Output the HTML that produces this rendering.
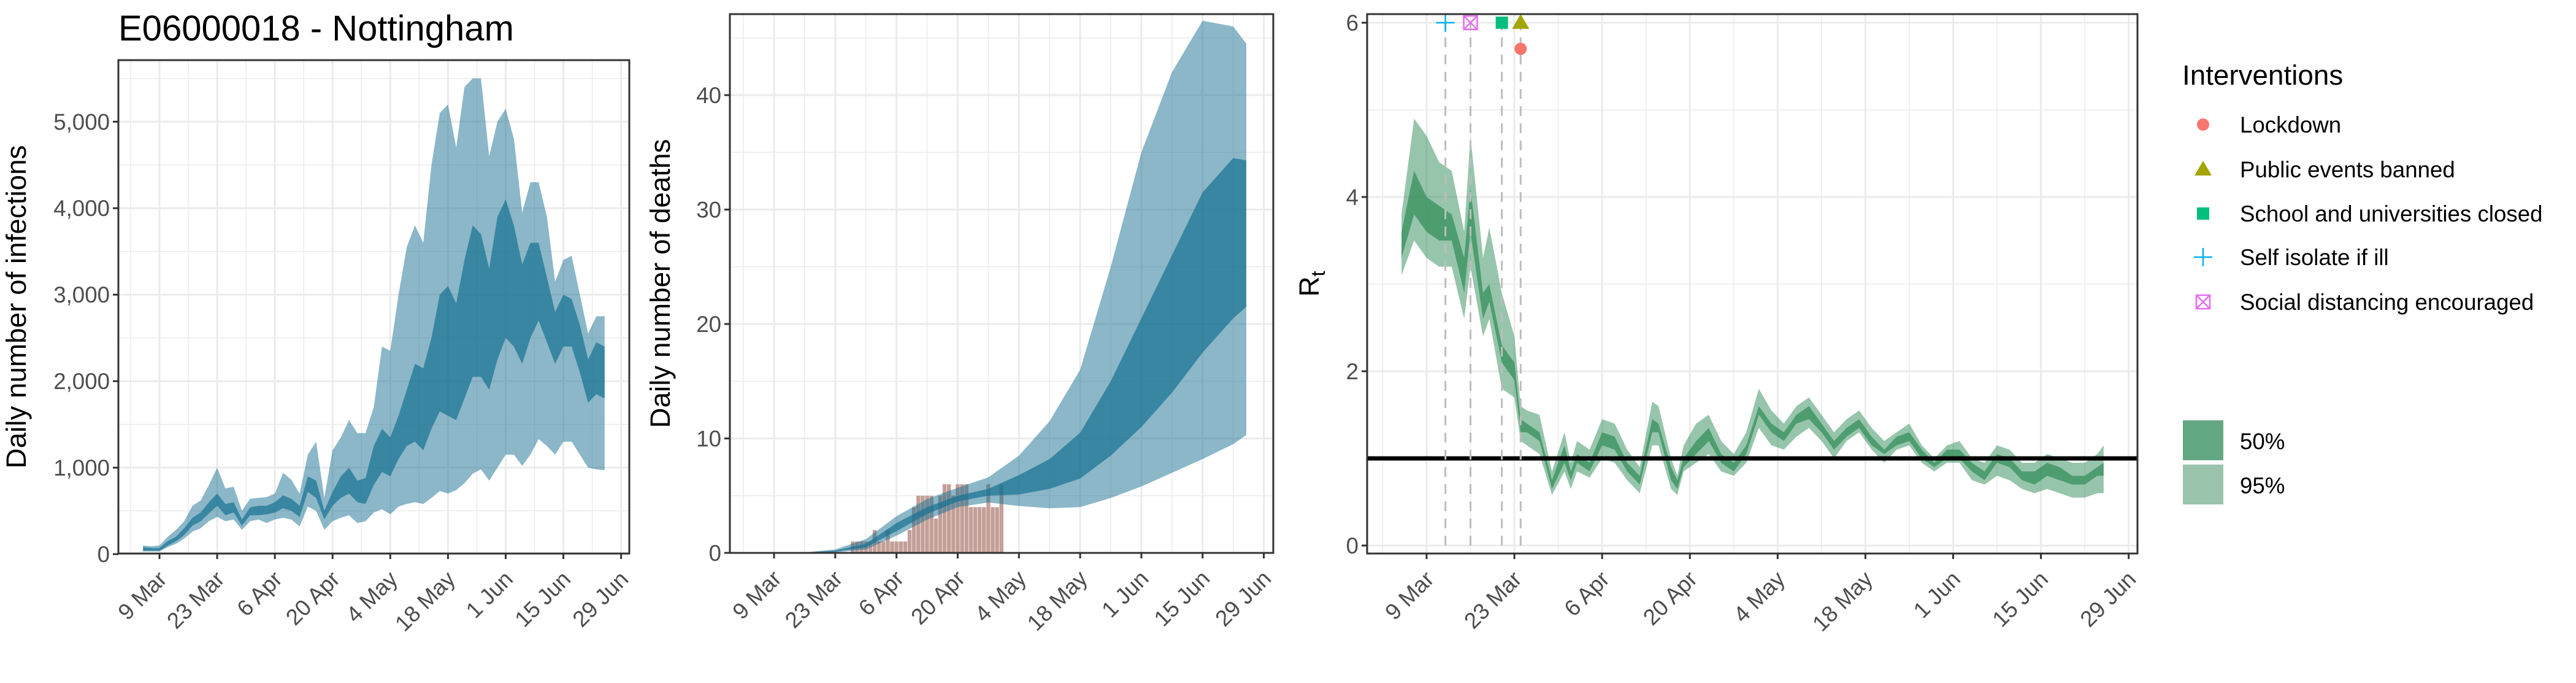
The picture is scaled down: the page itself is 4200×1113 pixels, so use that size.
<!DOCTYPE html>
<html><head><meta charset="utf-8">
<style>
html,body{margin:0;padding:0;background:#fff;}
svg{display:block;font-family:"Liberation Sans",Arial,sans-serif;}
</style></head>
<body>
<svg id="chart" width="4200" height="1113" viewBox="0 0 4200 1113" xmlns="http://www.w3.org/2000/svg">
<rect x="0" y="0" width="4200" height="1113" fill="#fff"/>
<text x="193" y="66" font-size="58" fill="#000">E06000018 - Nottingham</text>
<g id="p1"></g><g id="p2"></g><g id="p3"></g><g id="legend"></g>
</svg>
<script>
// ---- data: day offsets relative to 9 Mar ----
const tickLabels = ["9 Mar","23 Mar","6 Apr","20 Apr","4 May","18 May","1 Jun","15 Jun","29 Jun"];
const infDays = [-4,-2,0,2,4,6,8,10,12,14,16,18,20,22,24,26,28,30,32,34,36,38,40,42,44,46,48,50,52,54,56,58,60,62,64,66,68,70,72,74,76,78,80,82,84,86,88,90,92,94,96,98,100,102,104,106,108];
const infHi95 = [100,90,100,200,280,380,560,620,800,1000,760,780,500,640,650,660,700,940,860,700,1150,1300,650,1200,1350,1550,1400,1400,1700,2400,2350,3000,3550,3800,3600,4500,5100,5200,4700,5400,5500,5500,4600,5000,5150,4800,3950,4300,4300,3900,3150,3400,3450,3000,2550,2750,2750];
const infHi50 = [80,70,70,150,200,300,420,480,600,700,580,600,400,540,560,560,600,680,640,560,900,850,500,720,900,1000,850,880,1250,1450,1350,1600,1900,2200,2150,2500,3000,3100,2900,3400,3800,3700,3300,3900,4100,3800,3350,3600,3600,3200,2800,3000,2950,2650,2250,2450,2400];
const infLo50 = [40,40,40,100,150,220,330,380,470,560,450,480,330,450,450,460,480,530,500,430,720,650,400,560,650,700,600,580,800,950,900,1100,1250,1300,1200,1450,1650,1600,1550,1800,2050,2050,1900,2250,2500,2400,2200,2500,2700,2450,2200,2400,2400,2100,1750,1850,1800];
const infLo95 = [30,30,30,80,120,180,260,300,380,430,380,400,280,380,400,360,400,420,400,320,550,500,280,380,420,450,360,380,480,520,460,550,580,600,580,650,730,700,740,820,930,980,850,1000,1150,1150,1020,1150,1330,1250,1150,1300,1300,1150,1000,980,970];

const dthDays = [0,7,14,21,28,35,42,49,56,63,70,77,84,91,98,105,108];
const dthHi95 = [0,0.05,0.3,1.2,3.2,4.7,5.7,6.6,8.5,11.5,16,25,35,42,46.5,46,44.5];
const dthHi50 = [0,0.04,0.2,0.8,2.6,4.0,5.0,5.6,6.8,8.2,10.5,15,20.5,26,31.5,34.5,34.3];
const dthLo50 = [0,0.02,0.1,0.5,1.9,3.4,4.5,5.0,5.1,5.6,6.5,8.5,11,14,17.5,20.5,21.5];
const dthLo95 = [0,0.01,0.05,0.3,1.5,2.9,4.0,4.4,4.1,3.9,4.0,4.8,5.8,7,8.2,9.5,10.3];
const obsDays = [18,19,20,21,22,23,24,25,26,27,28,29,30,31,32,33,34,35,36,37,38,39,40,41,42,43,44,45,46,47,48,49,50,51,52];
const obsDeaths = [1,1,1,1,1,2,1,1,2,1,1,1,1,2,4,5,5,5,5,3,5,6,6,5,6,6,6,4,4,4,4,6,4,4,6];

const rtDays = [-4,-2,0,2,4,6,7,9,10,12,14,15,16,18,20,22,23,24,26,28,30,32,34,36,37,39,40,41,43,45,47,49,51,53,55,57,59,61,63,65,67,69,71,73,75,77,79,81,83,85,87,89,91,93,95,97,99,101,103,105,107,108];
const rtHi95 = [3.8,4.9,4.7,4.4,4.3,3.6,4.7,3.3,3.65,2.9,2.4,1.6,1.55,1.5,0.85,1.3,0.95,1.2,1.1,1.45,1.4,1.1,0.9,1.65,1.6,1.0,0.8,1.15,1.4,1.5,1.2,1.05,1.3,1.8,1.55,1.4,1.6,1.7,1.5,1.3,1.45,1.55,1.35,1.2,1.3,1.4,1.15,1.0,1.15,1.2,1.0,0.95,1.15,1.1,0.95,0.95,1.05,1.0,0.95,0.95,1.05,1.15];
const rtHi50 = [3.6,4.3,4.0,3.9,3.8,3.3,4.1,2.9,3.0,2.3,2.1,1.45,1.4,1.3,0.75,1.15,0.85,1.05,0.95,1.3,1.25,0.95,0.8,1.45,1.4,0.9,0.75,1.0,1.2,1.35,1.05,0.95,1.15,1.6,1.4,1.3,1.5,1.6,1.4,1.2,1.35,1.45,1.25,1.1,1.25,1.3,1.1,0.95,1.1,1.1,0.95,0.85,1.05,1.0,0.85,0.85,0.95,0.9,0.8,0.8,0.9,0.95];
const rtLo50 = [3.3,3.8,3.6,3.5,3.5,2.9,3.6,2.6,2.8,2.1,1.9,1.3,1.3,1.2,0.65,0.95,0.75,0.95,0.85,1.15,1.1,0.85,0.7,1.3,1.3,0.75,0.65,0.9,1.05,1.2,0.95,0.85,1.05,1.5,1.3,1.2,1.4,1.45,1.3,1.1,1.25,1.35,1.15,1.05,1.15,1.2,1.0,0.9,1.0,1.0,0.85,0.75,0.95,0.9,0.75,0.7,0.8,0.75,0.7,0.7,0.8,0.8];
const rtLo95 = [3.1,3.5,3.3,3.2,3.2,2.6,3.2,2.4,2.6,1.8,1.7,1.2,1.15,1.05,0.58,0.85,0.65,0.85,0.78,1.0,0.95,0.75,0.6,1.15,1.15,0.65,0.58,0.85,0.95,1.05,0.85,0.8,0.95,1.35,1.15,1.1,1.25,1.35,1.2,1.0,1.2,1.3,1.1,0.95,1.1,1.15,0.95,0.85,0.95,0.95,0.75,0.7,0.8,0.75,0.65,0.6,0.65,0.6,0.55,0.55,0.6,0.6];

const intNames = ["Self isolate if ill","Social distancing encouraged","School and universities closed","Public events banned","Lockdown"];
const intDays = [3,7,12,15,15];
const intValues = [6,6,6,6,5.7];
const intColors = ["#00b0f6","#e76bf3","#00bf7d","#a3a500","#f8766d"];
const intShapes = ["plus","boxx","square","triangle","circle"];
const legendOrder = [4,3,2,0,1];

const NS = "http://www.w3.org/2000/svg";
function mk(tag, attrs, parent){ const e=document.createElementNS(NS,tag); for(const k in attrs) e.setAttribute(k,attrs[k]); parent.appendChild(e); return e; }

function panel(g, box, xs, ys, yMaj, yMin, yFmt, ytitle, titleX, titleName){
  const [L,R,T,B]=box;
  // grid
  for(let d=-7; d<=112; d+=14){ const x=xs(d); if(x>L&&x<R){ const l=mk('line',{x1:x,x2:x,y1:T,y2:B,stroke:'#ebebeb','stroke-width':1.5},g);
      } }
  for(const v of yMin){ const y=ys(v); if(y>T&&y<B){ const l=mk('line',{x1:L,x2:R,y1:y,y2:y,stroke:'#ebebeb','stroke-width':1.5},g);
      } }
  for(let i=0;i<tickLabels.length;i++){ const x=xs(i*14); const l=mk('line',{x1:x,x2:x,y1:T,y2:B,stroke:'#ebebeb','stroke-width':3},g);
      }
  for(const v of yMaj){ const y=ys(v); const l=mk('line',{x1:L,x2:R,y1:y,y2:y,stroke:'#ebebeb','stroke-width':3},g);
      }
  // axes ticks & labels
  for(let i=0;i<tickLabels.length;i++){ const x=xs(i*14);
    const t=mk('line',{x1:x,x2:x,y1:B,y2:B+9,stroke:'#333','stroke-width':3},g);
     
    const tx=x+14, ty=B+44;
    const lb=mk('text',{x:tx,y:ty,'text-anchor':'end','font-size':36.7,fill:'#4d4d4d',transform:`rotate(-45 ${tx} ${ty})`},g);
    lb.textContent=tickLabels[i];
      }
  for(const v of yMaj){ const y=ys(v);
    const t=mk('line',{x1:L-9,x2:L,y1:y,y2:y,stroke:'#333','stroke-width':3},g);
     
    const lb=mk('text',{x:L-14,y:y+13,'text-anchor':'end','font-size':36.7,fill:'#4d4d4d'},g);
    lb.textContent=yFmt(v);
      }
  const cy=(T+B)/2;
  const at=mk('text',{x:titleX,y:cy,'text-anchor':'middle','font-size':45.8,fill:'#000',transform:`rotate(-90 ${titleX} ${cy})`},g);
   
  return at;
}
function band(g, days, hi, lo, xs, ys, color, op, name){
  let d='M';
  for(let i=0;i<days.length;i++) d+=(i?'L':'')+xs(days[i]).toFixed(1)+','+ys(hi[i]).toFixed(1);
  for(let i=days.length-1;i>=0;i--) d+='L'+xs(days[i]).toFixed(1)+','+ys(lo[i]).toFixed(1);
  d+='Z';
  const p=mk('path',{d:d,fill:color,'fill-opacity':op,stroke:'none'},g);
   
}
function frame(g,box){ const [L,R,T,B]=box; const r=mk('rect',{x:L,y:T,width:R-L,height:B-T,fill:'none',stroke:'#333','stroke-width':3},g);
    }

// Panel 1 infections
(function(){
  const g=document.getElementById('p1');
  const box=[193,1026,98,902];
  const xs=d=>260+6.72*d, ys=v=>903-v*0.14094;
  const t=panel(g,box,xs,ys,[0,1000,2000,3000,4000,5000],[500,1500,2500,3500,4500,5500],v=>v.toLocaleString('en-US'),'',42,'y-axis-title-infections');
  t.textContent='Daily number of infections';
  band(g,infDays,infHi95,infLo95,xs,ys,'rgb(23,112,145)',0.5,'infections-band-95');
  band(g,infDays,infHi50,infLo50,xs,ys,'rgb(23,112,145)',0.7,'infections-band-50');
  frame(g,box);
})();

// Panel 2 deaths
(function(){
  const g=document.getElementById('p2');
  const box=[1190,2076,23,901];
  const xs=d=>1262+7.13*d, ys=v=>901-v*18.65;
  const t=panel(g,box,xs,ys,[0,10,20,30,40],[5,15,25,35,45],v=>String(v),'',1092,'y-axis-title-deaths');
  t.textContent='Daily number of deaths';
  for(let i=0;i<obsDays.length;i++){
    const x=xs(obsDays[i]), w=7.13*0.9;
    const r=mk('rect',{x:x-w/2,y:ys(obsDeaths[i]),width:w,height:ys(0)-ys(obsDeaths[i]),fill:'#c09a92','fill-opacity':0.95},g);
     
  }
  band(g,dthDays,dthHi95,dthLo95,xs,ys,'rgb(23,112,145)',0.5,'deaths-band-95');
  band(g,dthDays,dthHi50,dthLo50,xs,ys,'rgb(23,112,145)',0.7,'deaths-band-50');
  frame(g,box);
})();

// Panel 3 Rt
(function(){
  const g=document.getElementById('p3');
  const box=[2229,3485,23,902];
  const xs=d=>2326+10.22*d, ys=v=>889-v*142;
  const t=panel(g,box,xs,ys,[0,2,4,6],[1,3,5],v=>String(v),'',2150,'y-axis-title-rt');
  t.textContent='R';
  const sub=mk('tspan',{'font-size':32,dy:10},t); sub.textContent='t';
  band(g,rtDays,rtHi95,rtLo95,xs,ys,'rgb(47,139,87)',0.5,'rt-band-95');
  band(g,rtDays,rtHi50,rtLo50,xs,ys,'rgb(47,139,87)',0.7,'rt-band-50');
  const h=mk('line',{x1:2229,x2:3485,y1:ys(1),y2:ys(1),stroke:'#000','stroke-width':7},g);
   
  for(let i=0;i<intDays.length-1;i++){
    const x=xs(intDays[i]);
    const l=mk('line',{x1:x,x2:x,y1:ys(0),y2:ys(6),stroke:'#bdbdbd','stroke-width':3,'stroke-dasharray':'16,12'},g);
     
  }
  for(let i=0;i<intDays.length;i++){
    const m=marker(g,intShapes[i],xs(intDays[i]),ys(intValues[i]),intColors[i]);
     
  }
  frame(g,box);
})();

function marker(g,shape,x,y,c){
  const m=mk('g',{},g);
  if(shape==='circle') mk('circle',{cx:x,cy:y,r:10,fill:c},m);
  else if(shape==='triangle') mk('polygon',{points:`${x},${y-14} ${x-14},${y+10} ${x+14},${y+10}`,fill:c},m);
  else if(shape==='square') mk('rect',{x:x-10,y:y-10,width:20,height:20,fill:c},m);
  else if(shape==='plus'){ mk('line',{x1:x-15,x2:x+15,y1:y,y2:y,stroke:c,'stroke-width':2.5},m); mk('line',{x1:x,x2:x,y1:y-15,y2:y+15,stroke:c,'stroke-width':2.5},m); }
  else { mk('rect',{x:x-11,y:y-11,width:22,height:22,fill:'none',stroke:c,'stroke-width':2.5},m);
    mk('line',{x1:x-11,y1:y-11,x2:x+11,y2:y+11,stroke:c,'stroke-width':2.5},m); mk('line',{x1:x+11,y1:y-11,x2:x-11,y2:y+11,stroke:c,'stroke-width':2.5},m); }
  return m;
}

// Legend
(function(){
  const g=document.getElementById('legend');
  const tt=mk('text',{x:3558,y:138,'font-size':45.8,fill:'#000'},g); tt.textContent='Interventions';
   
  const ys=[216,289,361,432,505];
  for(let k=0;k<legendOrder.length;k++){
    const i=legendOrder[k];
    const m=marker(g,intShapes[i],3592,ys[k]-13,intColors[i]);
     
    const t=mk('text',{x:3652,y:ys[k],'font-size':36.7,fill:'#000'},g); t.textContent=intNames[i];
     
  }
  const r1=mk('rect',{x:3559,y:685,width:66,height:65,fill:'#63a783'},g);
   
  const r2=mk('rect',{x:3559,y:757,width:66,height:65,fill:'#99c4ab'},g);
   
  const t1=mk('text',{x:3652,y:732,'font-size':36.7,fill:'#000'},g); t1.textContent='50%';
   
  const t2=mk('text',{x:3652,y:804,'font-size':36.7,fill:'#000'},g); t2.textContent='95%';
   
})();
</script>
</body></html>
